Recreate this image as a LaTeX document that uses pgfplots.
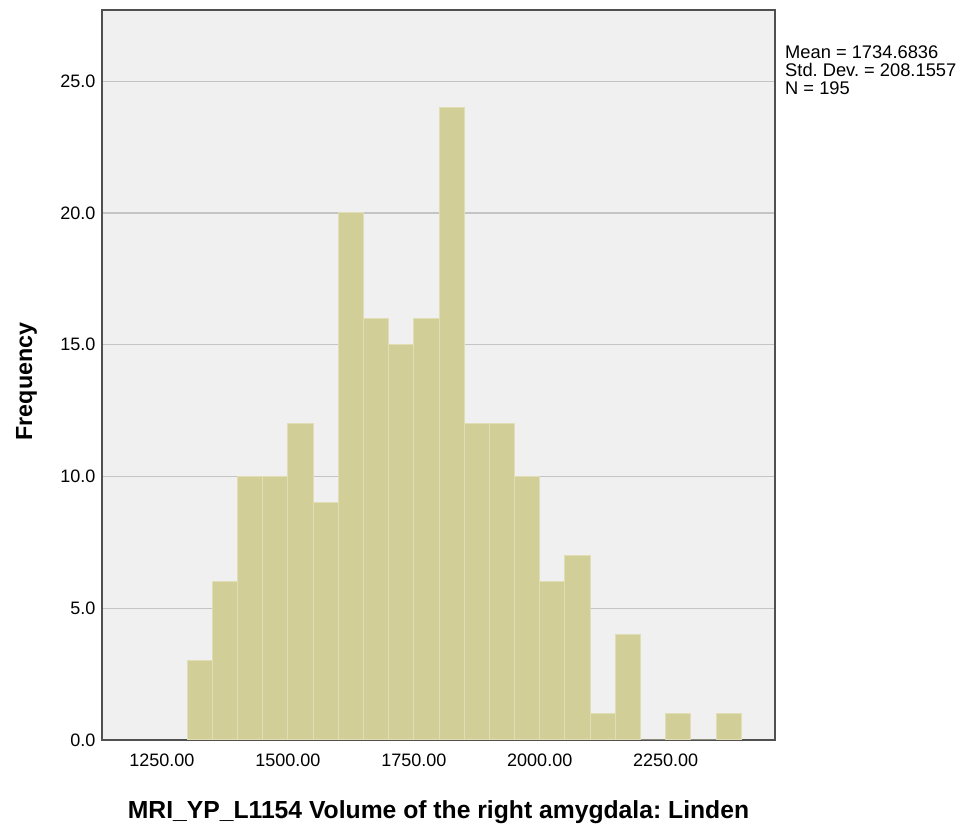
\documentclass[border=0pt]{standalone}
\usepackage{fontspec}
\setmainfont{Liberation Sans}
\usepackage{pgfplots}
\pgfplotsset{compat=1.18}
\frenchspacing

\definecolor{barfill}{RGB}{210,206,152}
\definecolor{baredge}{RGB}{225,222,182}
\definecolor{plotbg}{RGB}{240,240,240}
\definecolor{gridgray}{RGB}{196,196,196}
\definecolor{framegray}{RGB}{80,80,80}

\begin{document}
\begin{tikzpicture}
\path[use as bounding box] (0,0) rectangle (961pt,827pt);
\begin{axis}[
    at={(102pt,87pt)}, anchor=south west,
    scale only axis,
    width=673pt, height=730pt,
    xmin=1131, xmax=2467,
    ymin=0, ymax=27.7,
    axis background/.style={fill=plotbg},
    axis line style={framegray, line width=1.5pt},
    ymajorgrids,
    major grid style={gridgray, line width=1.2pt},
    major tick length=0pt,
    xtick={1250,1500,...,2250},
    ytick={0,5,...,25},
    scaled ticks=false,
    tick label style={font=\fontsize{18}{20}\selectfont},
    x tick label style={/pgf/number format/.cd, fixed, fixed zerofill, precision=2, 1000 sep={}, assume math mode=true, /tikz/.cd, yshift=-10pt},
    y tick label style={/pgf/number format/.cd, fixed, fixed zerofill, precision=1, assume math mode=true, /tikz/.cd, xshift=-3pt},
    xlabel={MRI\_YP\_L1154 Volume of the right amygdala: Linden},
    xlabel style={font=\fontsize{24.7}{27}\selectfont\bfseries, at={(axis description cs:0.5,-0.107)}, anchor=base},
    ylabel={Frequency},
    ylabel style={font=\fontsize{23.3}{26}\selectfont\bfseries, at={(axis description cs:-0.104,0.491)}, anchor=base, rotate=0},
]
% bins of width 50, left edges; last point closes the interval
\addplot[ybar interval, fill=barfill, draw=baredge, line width=1pt] coordinates {
    (1300,3) (1350,6) (1400,10) (1450,10) (1500,12) (1550,9)
    (1600,20) (1650,16) (1700,15) (1750,16) (1800,24) (1850,12)
    (1900,12) (1950,10) (2000,6) (2050,7) (2100,1) (2150,4)
    (2200,0) (2250,1) (2300,0) (2350,1) (2400,0)
};
\end{axis}
\node[anchor=north west, align=left, inner sep=0pt, font=\fontsize{18.3}{18}\selectfont] at (785pt,781pt)
    {Mean = 1734.6836\\Std. Dev. = 208.1557\\N = 195};
\end{tikzpicture}
\end{document}
